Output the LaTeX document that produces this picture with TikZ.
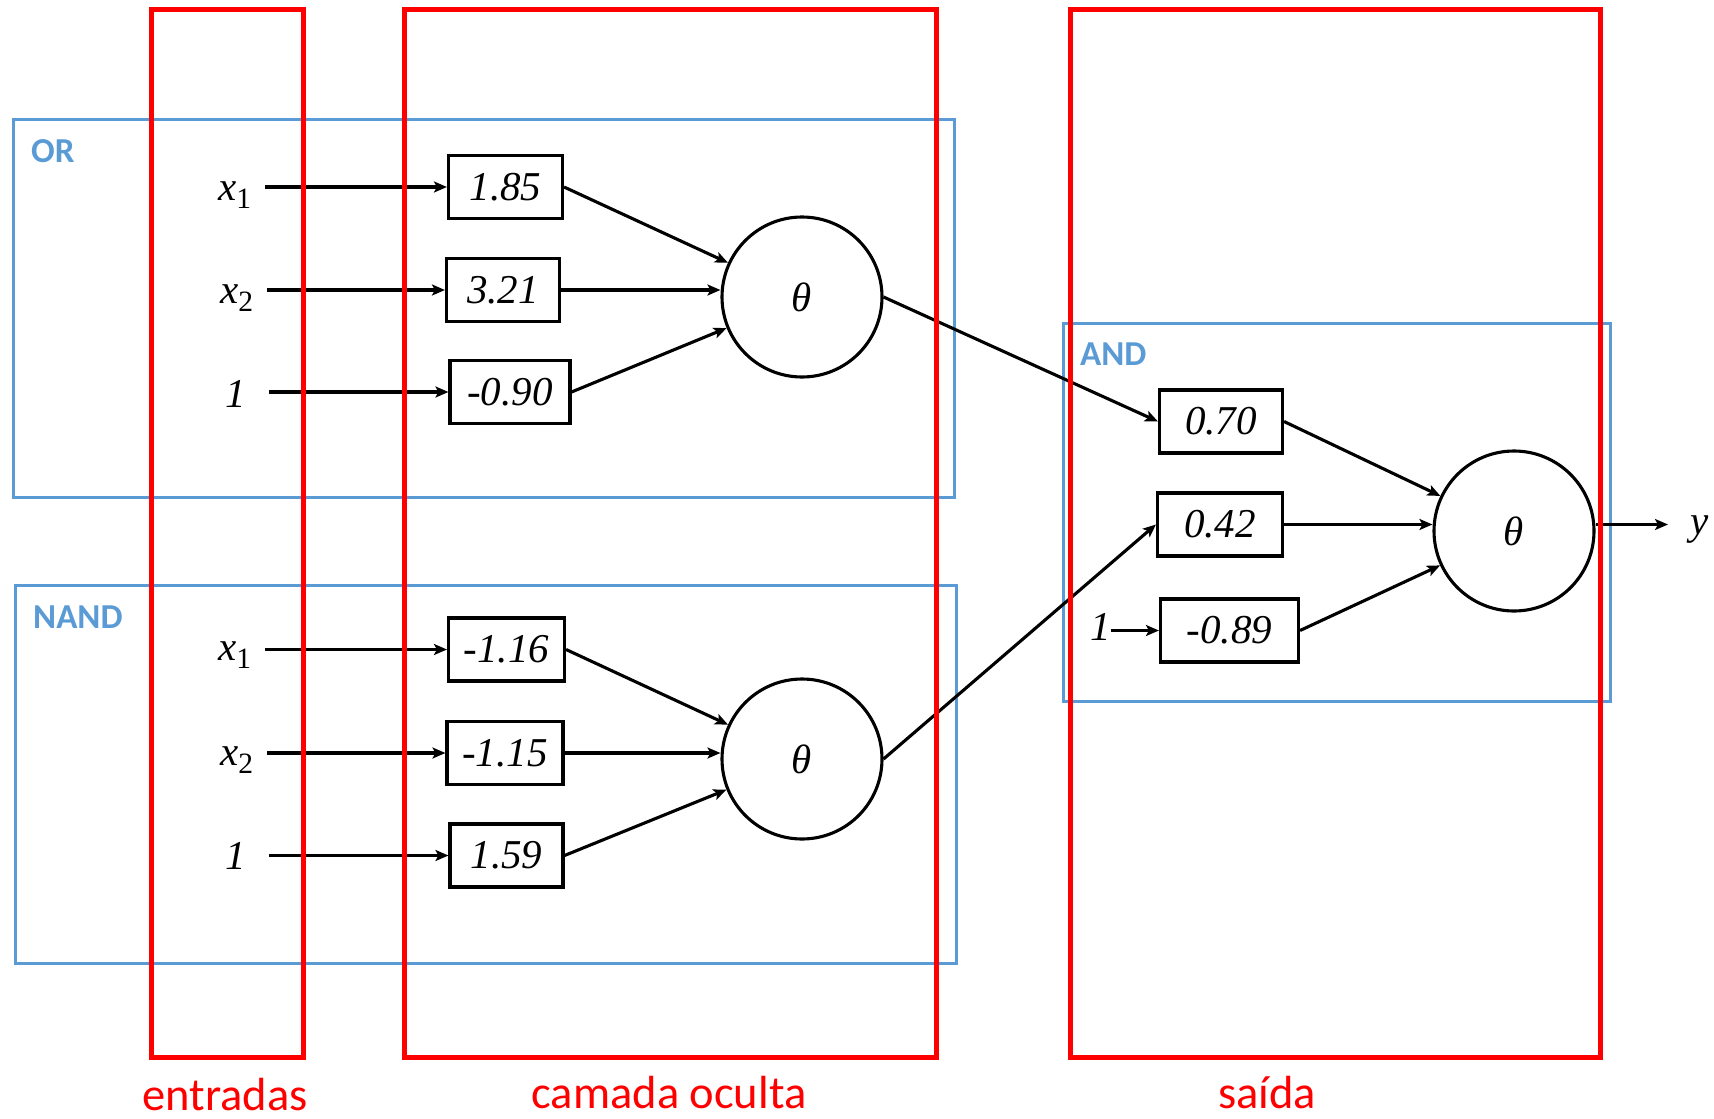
\documentclass[tikz,border=0pt]{standalone}
\usepackage{fontspec}
\setmainfont{Liberation Serif}
\newfontfamily\calibri{Carlito}
\usetikzlibrary{arrows.meta}
\definecolor{boxblue}{HTML}{5B9BD5}
\definecolor{layerred}{HTML}{FF0000}
\newcommand\wfont{\fontsize{41}{48}\selectfont\itshape}
\newcommand\subidx[1]{\raisebox{-8pt}{\fontsize{29.5}{32}\selectfont\upshape #1}}

\begin{document}
\begin{tikzpicture}[x=1pt,y=-1pt,
  weight/.style={draw, line width=3.1pt, minimum height=63pt, inner sep=0pt, font=\wfont},
  neuron/.style={draw, circle, line width=3.1pt, minimum size=160pt, inner sep=0pt, font=\wfont},
  inlbl/.style={inner sep=0pt, anchor=base west, font=\wfont},
  wire/.style={line width=3.1pt, -{Stealth[length=13pt,width=11pt,inset=3pt]}},
  group/.style={draw=boxblue, line width=3pt},
  grouplbl/.style={text=boxblue, inner sep=0pt, anchor=base west, font=\calibri\bfseries\fontsize{35}{40}\selectfont},
  layer/.style={draw=layerred, line width=5pt},
  layerlbl/.style={text=layerred, inner sep=0pt, anchor=base, font=\calibri\fontsize{46.5}{56}\selectfont}]

\useasboundingbox (0,0) rectangle (1714,1119);

% gate groups
\draw[group] (13,119) rectangle (954,497);
\draw[group] (15,585) rectangle (956,963);
\draw[group] (1063,323) rectangle (1610,701);
\node[grouplbl] (orlbl) at (31,162) {OR};
\node[grouplbl] (nandlbl) at (33,628) {NAND};
\node[grouplbl] (andlbl) at (1080,365) {AND};

% OR neuron
\node[inlbl] (ox1) at (218,200) {x\subidx{1}};
\node[inlbl] (ox2) at (220,303) {x\subidx{2}};
\node[inlbl] (ob)  at (225,407) {1};
\node[weight, minimum width=114pt] (w1) at (505.5,187) {1.85};
\node[weight, minimum width=113pt] (w2) at (503,290) {3.21};
\node[weight, minimum width=120pt] (w3) at (510,392) {-0.90};
\node[neuron] (c1) at (802,297) {θ};

% NAND neuron
\node[inlbl] (nx1) at (218,660) {x\subidx{1}};
\node[inlbl] (nx2) at (220,765) {x\subidx{2}};
\node[inlbl] (nb)  at (225,869) {1};
\node[weight, minimum width=116pt] (n1) at (506.5,649.5) {-1.16};
\node[weight, minimum width=116pt] (n2) at (505,753) {-1.15};
\node[weight, minimum width=113pt] (n3) at (506.5,855.5) {1.59};
\node[neuron] (c2) at (802,759) {θ};

% AND neuron
\node[weight, minimum width=123pt] (a1) at (1221,421.5) {0.70};
\node[weight, minimum width=125pt] (a2) at (1220,524.5) {0.42};
\node[weight, minimum width=138pt] (a3) at (1229.5,630.5) {-0.89};
\node[inlbl] (ab) at (1090,640) {1};
\node[neuron] (c3) at (1514,531) {θ};
\node[inlbl] (yl) at (1690,534) {y};

% OR connections
\draw[wire, shorten <=14pt] (ox1.east |- w1.west) -- (w1.west);
\draw[wire, shorten <=14pt] (ox2.east |- w2.west) -- (w2.west);
\draw[wire, shorten <=23pt] (ob.east |- w3.west) -- (w3.west);
\draw[wire] (w1.east) -- (c1);
\draw[wire] (w2.east) -- (w2.east -| c1.west);
\draw[wire] (w3.east) -- (c1);

% NAND connections
\draw[wire, shorten <=14pt] (nx1.east |- n1.west) -- (n1.west);
\draw[wire, shorten <=14pt] (nx2.east |- n2.west) -- (n2.west);
\draw[wire, shorten <=23pt] (nb.east |- n3.west) -- (n3.west);
\draw[wire] (n1.east) -- (c2);
\draw[wire] (n2.east) -- (n2.east -| c2.west);
\draw[wire] (n3.east) -- (c2);

% hidden layer to output
\draw[wire] (c1.east) -- (a1.west);
\draw[wire] (c2.east) -- (a2.west);

% AND connections
\draw[wire] (ab.east |- a3.west) -- (a3.west);
\draw[wire] (a1.east) -- (c3);
\draw[wire] (a2.east) -- (a2.east -| c3.west);
\draw[wire] (a3.east) -- (c3);
\draw[wire, shorten >=22pt] (a2.east -| c3.east) -- (a2.east -| yl.west);

% layers
\draw[layer] (151,9) rectangle (303,1057);
\draw[layer] (404,9) rectangle (936,1057);
\draw[layer] (1070,9) rectangle (1600,1057);
\node[layerlbl] (inlayer) at (225,1110) {entradas};
\node[layerlbl] (hidlayer) at (669,1108) {camada oculta};
\node[layerlbl] (outlayer) at (1267,1108) {saída};
\end{tikzpicture}
\end{document}
